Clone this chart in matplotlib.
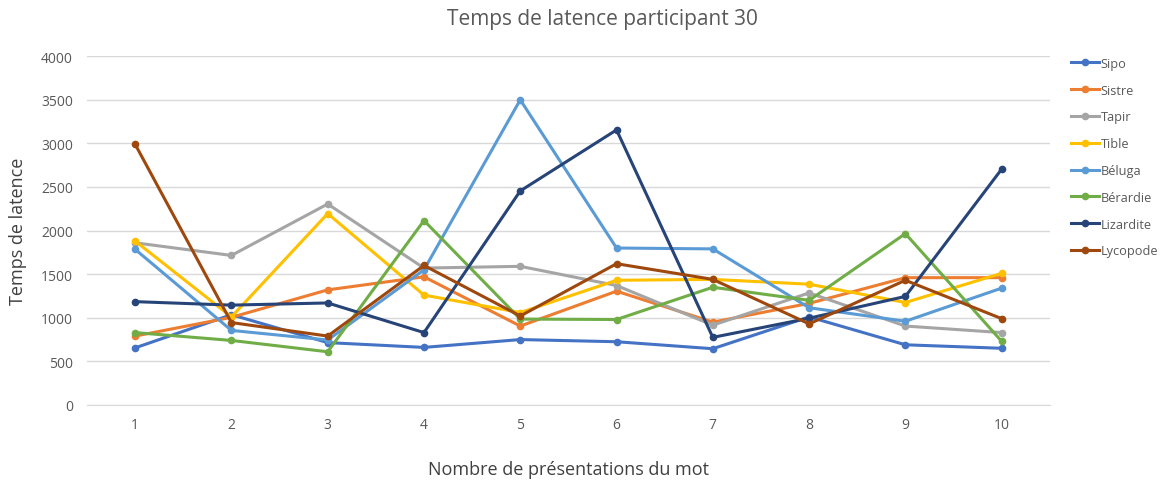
import matplotlib
matplotlib.use("Agg")
import matplotlib.pyplot as plt

x = [1, 2, 3, 4, 5, 6, 7, 8, 9, 10]
series_names = ["Sipo", "Sistre", "Tapir", "Tible", "Béluga", "Bérardie", "Lizardite", "Lycopode"]
sipo = [655, 1035, 715, 660, 750, 725, 645, 1010, 690, 650]
sistre = [790, 1005, 1320, 1470, 905, 1305, 950, 1165, 1460, 1460]
tapir = [1860, 1715, 2305, 1570, 1590, 1370, 915, 1285, 905, 830]
tible = [1880, 1010, 2195, 1260, 1060, 1430, 1440, 1385, 1175, 1510]
beluga = [1785, 855, 745, 1550, 3500, 1800, 1790, 1115, 960, 1340]
berardie = [830, 740, 610, 2115, 985, 980, 1350, 1200, 1965, 730]
lizardite = [1185, 1145, 1170, 830, 2455, 3155, 775, 995, 1245, 2705]
lycopode = [2990, 945, 790, 1600, 1020, 1620, 1440, 930, 1430, 990]
colors = ["#4472C4", "#ED7D31", "#A5A5A5", "#FFC000", "#5B9BD5", "#70AD47", "#264478", "#9E480E"]
yticks = [0, 500, 1000, 1500, 2000, 2500, 3000, 3500, 4000]

plt.rcParams['font.family'] = ['Open Sans', 'DejaVu Sans']

fig = plt.figure(figsize=(11.6, 4.85), dpi=100)
ax = fig.add_axes([0.075, 0.163, 0.830, 0.719])

all_series = [sipo, sistre, tapir, tible, beluga, berardie, lizardite, lycopode]
for name, vals, c in zip(series_names, all_series, colors):
    ax.plot(x, vals, color=c, lw=2.2, marker='o', ms=4.5, label=name, solid_joinstyle='round')

ax.set_xlim(0.5, 10.5)
ax.set_ylim(0, 4000)
ax.set_yticks(yticks)
ax.set_xticks(x)
ax.set_xticklabels([str(v) for v in x])
ax.grid(axis='y', color='#D9D9D9', lw=1)
ax.set_axisbelow(True)
for s in ['top', 'right', 'left']:
    ax.spines[s].set_visible(False)
ax.spines['bottom'].set_color('#D9D9D9')
ax.tick_params(axis='both', length=0, labelsize=10, colors='#595959')
ax.tick_params(axis='x', pad=9)
ax.tick_params(axis='y', pad=10)

ax.set_title("Temps de latence participant 30", fontsize=15, color='#595959', pad=23, x=0.535)
ax.set_xlabel("Nombre de présentations du mot", fontsize=13, color='#404040', labelpad=20)
ax.set_ylabel("Temps de latence", fontsize=13, color='#404040', labelpad=10)

leg = ax.legend(loc='upper left', bbox_to_anchor=(1.013, 1.024), frameon=False,
                fontsize=9.2, handlelength=2.2, handletextpad=0.1, labelspacing=1.08,
                labelcolor='#595959', borderaxespad=0.3)

fig.savefig("out.png", dpi=100)
